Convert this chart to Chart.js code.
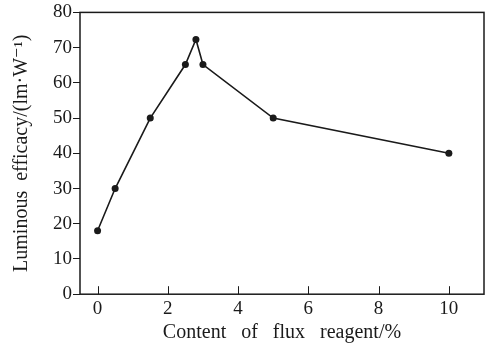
<!DOCTYPE html>
<html lang="en">
<head>
    <meta charset="utf-8" />
    <title>Luminous efficacy</title>
    <script src="https://cdn.jsdelivr.net/npm/chart.js"></script>
    <style>
        html, body { margin: 0; padding: 0; background: #fff; }
        #wrap { width: 492px; height: 343px; }
    </style>
</head>
<body>
    <div id="wrap">
        <canvas id="grafico" width="492" height="343"></canvas>
    </div>

    <script>
        // flux content (%) and luminous efficacy (lm/W)
        const fluxContent = [0, 0.5, 1.5, 2.5, 2.8, 3, 5, 10];
        const efficacy = [18, 30, 50, 65.2, 72.3, 65.2, 50, 40];
        const xTicks = [0, 2, 4, 6, 8, 10];
        const yTicks = [0, 10, 20, 30, 40, 50, 60, 70, 80];

        const serif = "'Liberation Serif', 'DejaVu Serif', serif";
        const ink = '#1a1a1a';

        // frame + inward x ticks
        const marco = {
            id: 'marco',
            afterDraw(chart) {
                const { ctx, chartArea: a, scales } = chart;
                ctx.save();
                ctx.strokeStyle = ink;
                ctx.lineWidth = 1.5;
                ctx.strokeRect(a.left, a.top, a.right - a.left, a.bottom - a.top);
                ctx.lineWidth = 1;
                xTicks.forEach(v => {
                    const px = Math.round(scales.x.getPixelForValue(v)) + 0.5;
                    ctx.beginPath();
                    ctx.moveTo(px, a.bottom);
                    ctx.lineTo(px, a.bottom - 8);
                    ctx.stroke();
                });
                ctx.restore();
            }
        };

        new Chart(document.getElementById('grafico').getContext('2d'), {
            type: 'line',
            data: {
                datasets: [{
                    data: fluxContent.map((x, i) => ({ x: x, y: efficacy[i] })),
                    borderColor: ink,
                    backgroundColor: ink,
                    borderWidth: 1.6,
                    pointRadius: 3.5,
                    pointBackgroundColor: ink,
                    pointBorderWidth: 0,
                    tension: 0
                }]
            },
            options: {
                responsive: false,
                animation: false,
                layout: { padding: { top: 12, right: 8, left: 10, bottom: 0 } },
                plugins: { legend: { display: false }, tooltip: { enabled: false } },
                scales: {
                    x: {
                        type: 'linear',
                        min: -0.5,
                        max: 11,
                        afterBuildTicks: s => { s.ticks = xTicks.map(v => ({ value: v })); },
                        grid: { display: true, drawOnChartArea: false, drawTicks: false, color: 'transparent' },
                        border: { display: false },
                        ticks: { color: ink, font: { family: serif, size: 19 }, padding: 3, maxRotation: 0 },
                        title: {
                            display: true,
                            text: 'Content   of   flux   reagent/%',
                            color: ink,
                            font: { family: serif, size: 20, lineHeight: 1 },
                            padding: { top: 0, bottom: 0 }
                        }
                    },
                    y: {
                        min: 0,
                        max: 80,
                        afterBuildTicks: s => { s.ticks = yTicks.map(v => ({ value: v })); },
                        grid: { drawOnChartArea: false, drawTicks: true, tickLength: 7, color: ink },
                        border: { display: false },
                        ticks: { color: ink, font: { family: serif, size: 19 }, padding: 1 },
                        title: {
                            display: true,
                            text: 'Luminous  efficacy/(lm·W⁻¹)',
                            color: ink,
                            font: { family: serif, size: 20 },
                            padding: { top: 0, bottom: 18 }
                        }
                    }
                }
            },
            plugins: [marco]
        });
    </script>
</body>
</html>
